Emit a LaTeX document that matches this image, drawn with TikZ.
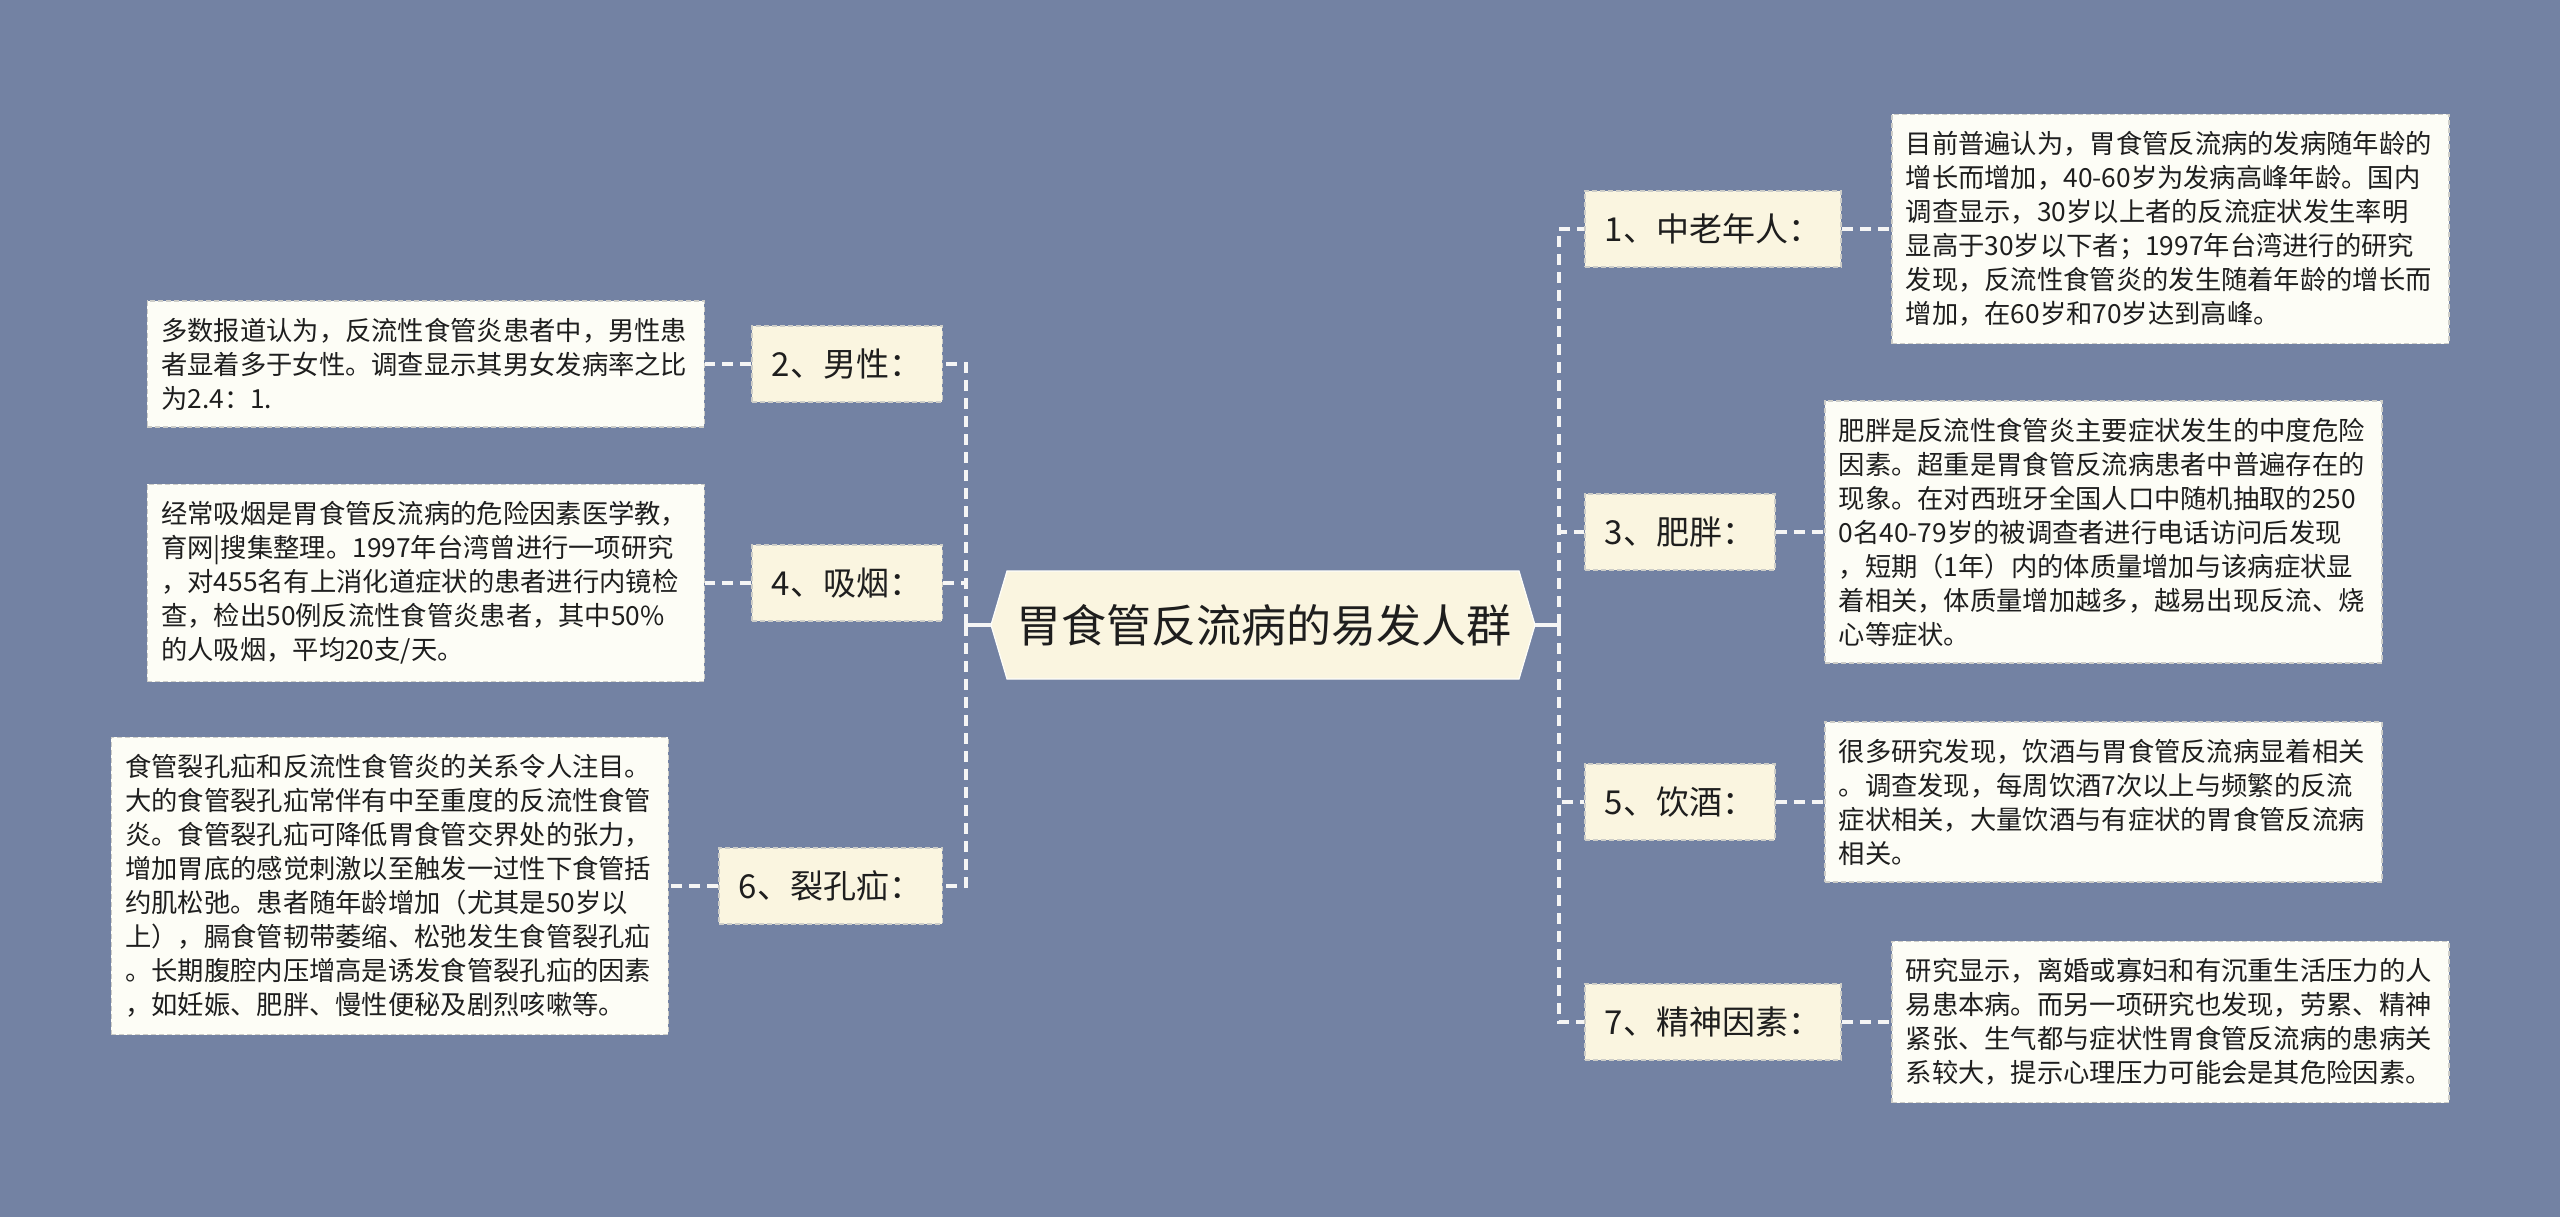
\documentclass[tikz,border=0pt]{standalone}
\usepackage{fontspec}
\newfontfamily\cjk{Noto Sans CJK SC}
\definecolor{bg}{RGB}{115,130,163}
\definecolor{lab}{RGB}{250,245,224}
\definecolor{tbox}{RGB}{253,253,246}
\definecolor{bord}{RGB}{205,205,200}
\definecolor{conn}{RGB}{245,245,245}
\definecolor{txt}{RGB}{30,30,30}
\begin{document}
\begin{tikzpicture}[x=1pt,y=-1pt,
 lbl/.style={draw=bord, fill=lab, dash pattern=on 5pt off 3pt, line width=1.5pt, inner xsep=20pt, inner ysep=0pt, minimum height=76pt, font=\cjk\fontsize{33}{40}\selectfont, text=txt},
 tb/.style={draw=bord, fill=tbox, dash pattern=on 5pt off 3pt, line width=1.5pt, inner xsep=14pt, inner ysep=17pt, text width=529pt, align=left, font=\cjk\fontsize{26.3}{34}\selectfont, text=txt},
 cn/.style={draw=conn, line width=3.5pt, dash pattern=on 11pt off 7pt},
 sl/.style={draw=conn, line width=4pt},
]
\useasboundingbox (0,0) rectangle (2560,1217);
\fill[bg] (0,0) rectangle (2560,1217);

% centre
\fill[lab, draw=white!85!lab, line width=1.2pt] (991,625) -- (1007,571) -- (1519,571) -- (1535,625) -- (1519,679) -- (1007,679) -- cycle;
\node[font=\cjk\fontsize{45}{50}\selectfont, text=txt, inner sep=0pt] (c) at (1264,625) {胃食管反流病的易发人群};
\coordinate (cl) at (991,625);
\coordinate (cr) at (1535,625);
\coordinate (jl) at (966,625);
\coordinate (jr) at (1559,625);

% right labels
\node[lbl, anchor=west] (l1) at (1584,229) {1、中老年人：};
\node[lbl, anchor=west] (l3) at (1584,532) {3、肥胖：};
\node[lbl, anchor=west] (l5) at (1584,802) {5、饮酒：};
\node[lbl, anchor=west] (l7) at (1584,1022) {7、精神因素：};
% left labels
\node[lbl, anchor=east] (l2) at (943,364) {2、男性：};
\node[lbl, anchor=east] (l4) at (943,583) {4、吸烟：};
\node[lbl, anchor=east] (l6) at (943,886) {6、裂孔疝：};

% right text boxes
\node[tb, anchor=west] (t1) at (1891,229) {目前普遍认为，胃食管反流病的发病随年龄的\\增长而增加，40-60岁为发病高峰年龄。国内\\调查显示，30岁以上者的反流症状发生率明\\显高于30岁以下者；1997年台湾进行的研究\\发现，反流性食管炎的发生随着年龄的增长而\\增加，在60岁和70岁达到高峰。};
\node[tb, anchor=west] (t3) at (1824,532) {肥胖是反流性食管炎主要症状发生的中度危险\\因素。超重是胃食管反流病患者中普遍存在的\\现象。在对西班牙全国人口中随机抽取的250\\0名40-79岁的被调查者进行电话访问后发现\\，短期（1年）内的体质量增加与该病症状显\\着相关，体质量增加越多，越易出现反流、烧\\心等症状。};
\node[tb, anchor=west] (t5) at (1824,802) {很多研究发现，饮酒与胃食管反流病显着相关\\。调查发现，每周饮酒7次以上与频繁的反流\\症状相关，大量饮酒与有症状的胃食管反流病\\相关。};
\node[tb, anchor=west] (t7) at (1891,1022) {研究显示，离婚或寡妇和有沉重生活压力的人\\易患本病。而另一项研究也发现，劳累、精神\\紧张、生气都与症状性胃食管反流病的患病关\\系较大，提示心理压力可能会是其危险因素。};
% left text boxes
\node[tb, anchor=east] (t2) at (705,364) {多数报道认为，反流性食管炎患者中，男性患\\者显着多于女性。调查显示其男女发病率之比\\为2.4：1.};
\node[tb, anchor=east] (t4) at (705,583) {经常吸烟是胃食管反流病的危险因素医学教，\\育网|搜集整理。1997年台湾曾进行一项研究\\，对455名有上消化道症状的患者进行内镜检\\查，检出50例反流性食管炎患者，其中50\%\\的人吸烟，平均20支/天。};
\node[tb, anchor=east] (t6) at (669,886) {食管裂孔疝和反流性食管炎的关系令人注目。\\大的食管裂孔疝常伴有中至重度的反流性食管\\炎。食管裂孔疝可降低胃食管交界处的张力，\\增加胃底的感觉刺激以至触发一过性下食管括\\约肌松弛。患者随年龄增加（尤其是50岁以\\上），膈食管韧带萎缩、松弛发生食管裂孔疝\\。长期腹腔内压增高是诱发食管裂孔疝的因素\\，如妊娠、肥胖、慢性便秘及剧烈咳嗽等。};

% connectors
\draw[sl] (cr) -- (jr);
\draw[sl] (cl) -- (jl);
\foreach \n in {l1,l3,l5,l7} { \draw[cn] (jr) |- (\n.west); }
\foreach \n in {l2,l4,l6} { \draw[cn] (jl) |- (\n.east); }
\draw[cn] (l1.east) -- (t1.west);
\draw[cn] (l3.east) -- (t3.west);
\draw[cn] (l5.east) -- (t5.west);
\draw[cn] (l7.east) -- (t7.west);
\draw[cn] (l2.west) -- (t2.east);
\draw[cn] (l4.west) -- (t4.east);
\draw[cn] (l6.west) -- (t6.east);
\end{tikzpicture}
\end{document}
